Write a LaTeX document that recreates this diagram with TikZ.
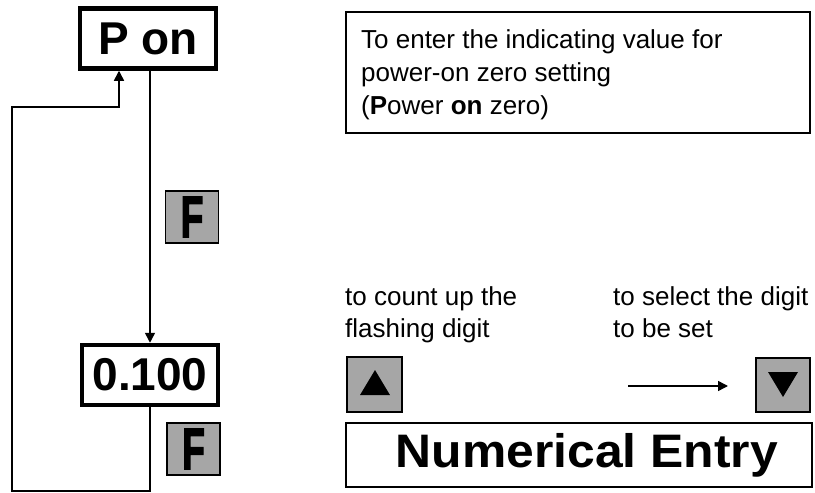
\documentclass[tikz,border=0pt]{standalone}
\usepackage{fontspec}
\setmainfont{Liberation Sans}
\newfontfamily\keyfont[FakeBold=3]{Liberation Sans Bold}
\usetikzlibrary{arrows.meta,calc,positioning}
\definecolor{keygray}{RGB}{166,166,166}
\newcommand{\Fkey}{\scalebox{0.64}[1]{\keyfont\fontsize{58}{58}\selectfont F}}

\begin{document}
\begin{tikzpicture}[x=1pt,y=-1pt,
  dispbox/.style={draw,line width=4.5pt,minimum width=136pt,minimum height=60pt,inner sep=0pt,font=\fontsize{46}{46}\selectfont\bfseries},
  keybox/.style={draw,line width=1.5pt,fill=keygray,inner sep=0pt},
  infobox/.style={draw,line width=1.5pt,inner sep=0pt},
  note/.style={anchor=base west,align=left,inner sep=0pt},
  flow/.style={line width=1.5pt,-{Triangle[length=10pt,width=10pt]}}]
\useasboundingbox (0,0) rectangle (815,493);
% display states
\node[dispbox] (pon) at (148,38.5) {P on};
\node[dispbox] (val) at (150,375) {0.100};
\node[keybox,minimum width=53pt,minimum height=52pt] (f1) at (192,217) {\Fkey};
\node[keybox,minimum width=53pt,minimum height=52pt] (f2) at (193.5,449) {\Fkey};
% flow
\coordinate (bl) at (12,491);
\coordinate (tl) at (12,107);
\coordinate (tr) at (119,107);
\draw[flow] (pon.south -| val.north) -- (val.north);
\draw[flow] (val.south) |- (bl) -- (tl) -- (tr) -- (tr |- pon.south);
% description
\node[infobox,minimum width=464pt,minimum height=121pt] (info) at (578,72.5) {};
\node[note,font=\fontsize{26}{33}\selectfont] (infotxt) at (361,114)
  {To enter the indicating value for\\power-on zero setting\\(\textbf{P}ower \textbf{on} zero)};
% numerical entry
\node[note,font=\fontsize{26}{32}\selectfont] (uptxt) at (345,337) {to count up the\\flashing digit};
\node[note,font=\fontsize{26}{32}\selectfont] (seltxt) at (613,337) {to select the digit\\to be set};
\node[keybox,minimum size=55pt] (up) at (374.5,384.5) {};
\node[keybox,minimum size=54pt] (down) at (783,385) {};
\fill ($(up.center)+(0.5,-14.5)$) -- ++(15,25) -- ++(-30,0) -- cycle;
\fill ($(down.center)+(-15,-13)$) -- ++(30,0) -- ++(-15,25) -- cycle;
\coordinate (sel) at (628,386);
\coordinate (selend) at (728,386);
\draw[flow] (sel) -- (selend);
\node[infobox,minimum width=466pt,minimum height=64pt,font=\fontsize{47}{47}\selectfont\bfseries] (entry) at (579,455)
  {\hspace*{16pt}\scalebox{1.06}[1]{Numerical Entry}};
\end{tikzpicture}
\end{document}
